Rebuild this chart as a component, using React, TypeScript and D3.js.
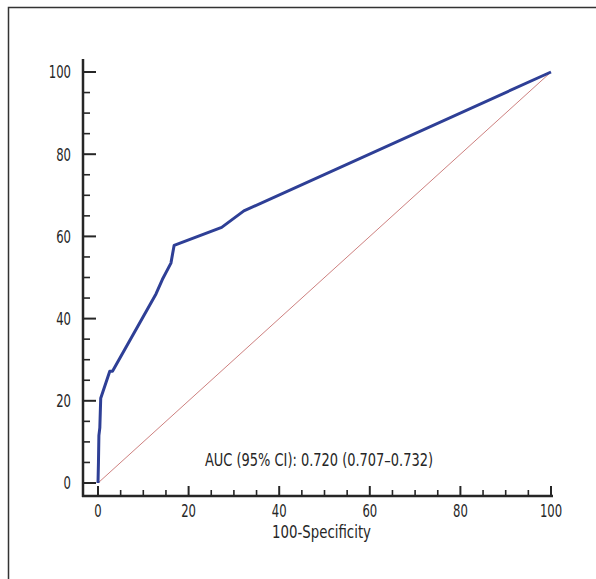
import * as d3 from 'd3';

// ROC curve: [100-specificity, sensitivity]
const rocPoints: [number, number][] = [
  [0, 0], [0.1, 5], [0.2, 11.6], [0.4, 13.4], [0.6, 20.6], [2.6, 27.2], [3.2, 27.2],
  [12.8, 46], [14.2, 49.5], [16.1, 53.5], [16.8, 57.8], [27.3, 62.2], [32.2, 66.2], [100, 100],
];
const refLine: [number, number][] = [[0, 0], [100, 100]];
const majorTicks = [0, 20, 40, 60, 80, 100];
const minorTicks = d3.range(0, 101, 5).filter(v => v % 20 !== 0);
const xTitle = '100-Specificity';
const aucLabel = 'AUC (95% CI): 0.720 (0.707–0.732)';

const W = 596;
const H = 579;
const font = '"DejaVu Sans Condensed", "Liberation Sans Narrow", sans-serif';
const ink = '#262626';
const digitW = 7.4;

export default function App() {
  const x = d3.scaleLinear().domain([0, 100]).range([98, 551]);
  const y = d3.scaleLinear().domain([0, 100]).range([483, 72]);
  const axisX = 83;
  const axisY = 496;

  const line = d3.line<[number, number]>().x(d => x(d[0])).y(d => y(d[1]));
  const textStyle = { fontStretch: 'condensed' as const };

  return (
    <svg width={W} height={H} style={{ position: 'absolute', left: 0, top: 0, background: '#fff' }}>
      {/* frame */}
      <rect x={8.5} y={7.5} width={W + 20} height={H + 20} fill="none" stroke="#333" strokeWidth={1.5} />

      {/* reference diagonal */}
      <path d={line(refLine) ?? ''} fill="none" stroke="#c0605e" strokeWidth={0.8} />

      {/* ROC curve */}
      <path d={line(rocPoints) ?? ''} fill="none" stroke="#2e3f96" strokeWidth={3} strokeLinejoin="round" />

      {/* y axis */}
      <line x1={axisX} x2={axisX} y1={59} y2={axisY + 1} stroke={ink} strokeWidth={2.5} />
      {majorTicks.map(v => {
        const w = String(v).length * digitW;
        return (
          <g key={'ym' + v}>
            <line x1={axisX} x2={axisX + 13} y1={y(v)} y2={y(v)} stroke={ink} strokeWidth={2} />
            <text x={axisX - 12 - w} y={y(v)} dy="0.36em" textLength={w} lengthAdjust="spacingAndGlyphs"
              fontFamily={font} fontSize={18} fill={ink} style={textStyle}>
              {v}
            </text>
          </g>
        );
      })}
      {minorTicks.map(v => (
        <line key={'yn' + v} x1={axisX} x2={axisX + 7} y1={y(v)} y2={y(v)} stroke={ink} strokeWidth={1.6} />
      ))}

      {/* x axis */}
      <line x1={axisX - 1} x2={553} y1={axisY} y2={axisY} stroke={ink} strokeWidth={2.5} />
      {majorTicks.map(v => {
        const w = String(v).length * digitW;
        return (
          <g key={'xm' + v}>
            <line x1={x(v)} x2={x(v)} y1={axisY} y2={axisY - 10} stroke={ink} strokeWidth={2} />
            <text x={x(v) - w / 2} y={517} textLength={w} lengthAdjust="spacingAndGlyphs"
              fontFamily={font} fontSize={18} fill={ink} style={textStyle}>
              {v}
            </text>
          </g>
        );
      })}
      {minorTicks.map(v => (
        <line key={'xn' + v} x1={x(v)} x2={x(v)} y1={axisY} y2={axisY - 6} stroke={ink} strokeWidth={1.6} />
      ))}

      <text x={272} y={538} textLength={99} lengthAdjust="spacingAndGlyphs" fontFamily={font} fontSize={18} fill={ink} style={textStyle}>
        {xTitle}
      </text>

      <text x={205} y={466} textLength={228} lengthAdjust="spacingAndGlyphs" fontFamily={font} fontSize={18} fill={ink} style={textStyle}>
        {aucLabel}
      </text>
    </svg>
  );
}
